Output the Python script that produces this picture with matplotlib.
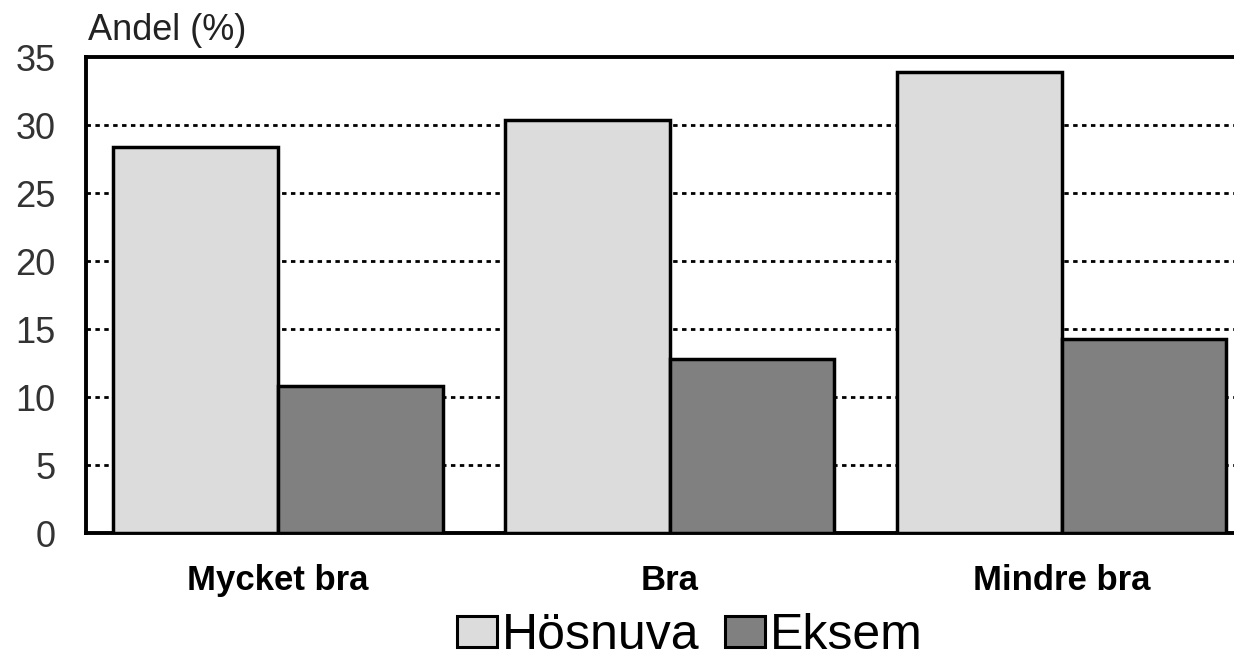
import numpy as np
import matplotlib
matplotlib.use("Agg")
import matplotlib.pyplot as plt
from matplotlib.patches import Patch

plt.rcParams['font.family'] = ['Liberation Sans', 'DejaVu Sans']

# Data
categories = ["Mycket bra", "Bra", "Mindre bra"]
hosnuva = [28.4, 30.4, 33.9]
eksem = [10.8, 12.8, 14.3]
series_names = ["Hösnuva", "Eksem"]
yticks = [0, 5, 10, 15, 20, 25, 30, 35]

fig = plt.figure(figsize=(12.34, 6.57), dpi=100)
ax = fig.add_axes([0.0697, 0.1887, 0.9303, 0.7245])

x = np.arange(len(categories))
w = 0.42
ax.bar(x - w / 2, hosnuva, width=w, color='#dcdcdc', edgecolor='black', linewidth=2.5, zorder=3)
ax.bar(x + w / 2, eksem, width=w, color='#808080', edgecolor='black', linewidth=2.5, zorder=3)

ax.set_xlim(-0.49, 2.44)
ax.set_ylim(0, 35)
ax.set_yticks(yticks)
ax.set_yticklabels([str(t) for t in yticks], fontsize=26, color='#333333')
ax.set_xticks(x)
ax.set_xticklabels(categories, fontsize=25, fontweight='bold')
ax.tick_params(axis='both', length=0)
ax.tick_params(axis='y', pad=22)
ax.tick_params(axis='x', pad=22)

for t in yticks[1:-1]:
    ax.axhline(t, color='black', linewidth=2, linestyle=(0, (1.6, 1.6)), zorder=1)

for s in ['left', 'bottom', 'top']:
    ax.spines[s].set_linewidth(2.8)
ax.spines['right'].set_visible(False)

fig.text(88 / 1234, 1 - 30 / 657, "Andel (%)", fontsize=26, va='center', ha='left', color='#222222')

handles = [Patch(facecolor='#dcdcdc', edgecolor='black', linewidth=2.2),
           Patch(facecolor='#808080', edgecolor='black', linewidth=2.2)]
fig.legend(handles, series_names, loc='center', bbox_to_anchor=(690 / 1234, 1 - 636 / 657),
           ncol=2, frameon=False, fontsize=36, handlelength=0.8, handleheight=0.6,
           handletextpad=0.1, columnspacing=0.5)

fig.savefig("out.png", dpi=100)
